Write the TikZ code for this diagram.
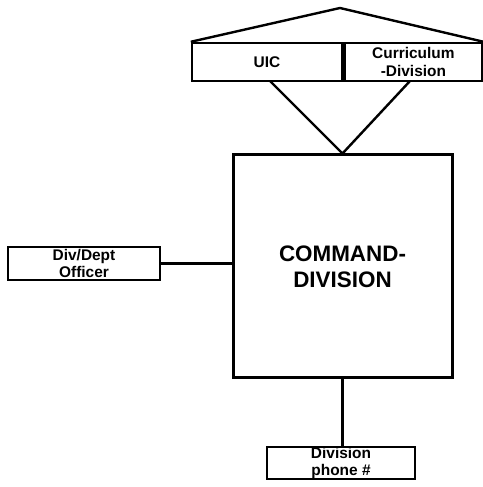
\documentclass[tikz,border=0pt]{standalone}
\usepackage{fontspec}
\setmainfont{Liberation Sans}
\usetikzlibrary{positioning}
\tikzset{
  unitbox/.style={draw, line width=2.4bp, rectangle, inner sep=0pt, align=center,
    font=\bfseries\fontsize{15.5}{18}\selectfont},
  link/.style={line width=2.4bp},
}

\begin{document}
\begin{tikzpicture}[x=1bp,y=1bp]
\useasboundingbox (0,0) rectangle (483,487);
% central command square
\node[unitbox, minimum width=219bp, minimum height=223bp, line width=3bp,
  font=\bfseries\fontsize{22.5}{26}\selectfont] (cmd) at (342.5,220.5) {COMMAND-\\DIVISION};
% header pair under the roof
\node[unitbox, minimum width=150bp, minimum height=38bp] (uic) at (267,425) {UIC};
\node[unitbox, minimum width=138bp, minimum height=38bp, anchor=west] (curr) at (uic.east) {Curriculum\\-Division};
\coordinate (apex) at (340,479);
\draw[link] (uic.north west) -- (apex) -- (curr.north east);
% legs down to the square
\coordinate (legL) at (270,406);
\coordinate (legR) at (410,406);
\draw[link] (legL) -- (cmd.north) -- (legR);
% side and bottom units
\node[unitbox, minimum width=152bp, minimum height=33bp] (officer) at (84,223.5) {Div/Dept\\Officer};
\draw[link] (officer.east) -- (cmd.west |- officer.east);
\node[unitbox, minimum width=148bp, minimum height=30bp] (phone) at (341,24) {Division\\phone \#};
\draw[link] (cmd.south) -- (cmd.south |- phone.north);
\end{tikzpicture}
\end{document}
